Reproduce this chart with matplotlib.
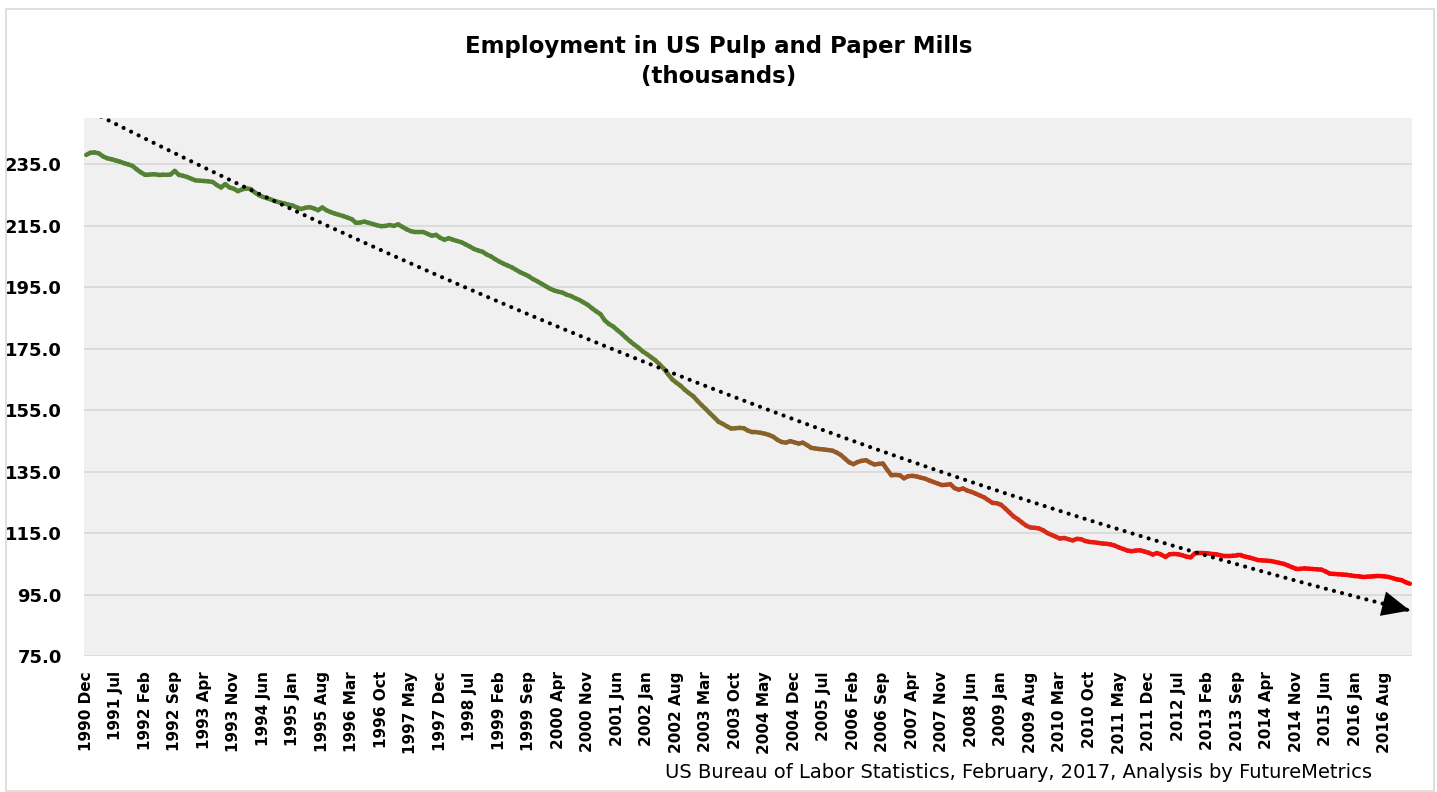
import numpy as np
import pandas as pd
import matplotlib
matplotlib.use('Agg')
import matplotlib.pyplot as plt
from matplotlib.collections import LineCollection
from matplotlib.colors import LinearSegmentedColormap
from matplotlib.patches import Rectangle

# monthly employment, thousands, starting 1990 Dec
jobs = [
    238.0, 238.7, 238.8, 238.5, 237.5, 236.9, 236.6, 236.2, 235.8, 235.3, 234.9, 234.4,
    233.3, 232.3, 231.5, 231.6, 231.7, 231.6, 231.6, 231.5, 231.6, 232.8, 231.5, 231.2,
    230.8, 230.2, 229.7, 229.6, 229.5, 229.4, 229.2, 228.2, 227.4, 228.5, 227.4, 227.0,
    226.2, 226.8, 227.1, 226.9, 225.8, 224.9, 224.3, 223.9, 223.4, 222.9, 222.5, 222.2,
    221.8, 221.5, 220.9, 220.4, 220.8, 221.0, 220.6, 220.0, 220.9, 220.0, 219.4, 218.9,
    218.5, 218.1, 217.6, 217.1, 215.9, 216.0, 216.3, 215.9, 215.5, 215.1, 214.8, 214.9,
    215.2, 214.9, 215.4, 214.6, 213.8, 213.2, 212.9, 212.9, 212.9, 212.3, 211.7, 212.0,
    211.0, 210.4, 210.9, 210.4, 210.0, 209.6, 208.9, 208.2, 207.4, 206.9, 206.5, 205.6,
    205.0, 204.1, 203.3, 202.6, 202.0, 201.4, 200.6, 199.8, 199.2, 198.5, 197.6, 196.9,
    196.1, 195.3, 194.5, 193.9, 193.5, 193.2, 192.5, 192.1, 191.4, 190.8, 190.0, 189.2,
    188.1, 187.1, 186.2, 184.2, 183.0, 182.2, 181.0, 179.9, 178.6, 177.4, 176.3, 175.3,
    174.1, 173.2, 172.2, 171.2, 169.9, 168.5, 166.7, 165.0, 163.9, 162.9, 161.6, 160.5,
    159.5, 158.0, 156.6, 155.3, 153.9, 152.6, 151.2, 150.5, 149.7, 149.0, 149.1, 149.2,
    149.1, 148.3, 147.8, 147.8, 147.6, 147.3, 146.9, 146.3, 145.3, 144.6, 144.4, 144.9,
    144.5, 144.1, 144.4, 143.6, 142.7, 142.5, 142.3, 142.2, 142.0, 141.8, 141.2, 140.4,
    139.2, 138.0, 137.4, 138.1, 138.5, 138.7, 137.9, 137.3, 137.5, 137.6, 135.6, 133.8,
    133.9, 133.8, 132.8, 133.5, 133.6, 133.4, 133.0, 132.7, 132.1, 131.6, 131.1, 130.6,
    130.7, 130.9, 129.6, 129.1, 129.5, 128.8, 128.4, 127.8, 127.2, 126.6, 125.7, 124.8,
    124.7, 124.2, 123.0, 121.7, 120.4, 119.5, 118.4, 117.4, 116.8, 116.7, 116.5, 115.9,
    115.0, 114.4, 113.8, 113.2, 113.4, 113.0, 112.6, 113.1, 113.0, 112.4, 112.1, 112.0,
    111.8, 111.6, 111.5, 111.3, 110.9, 110.3, 109.8, 109.3, 109.1, 109.3, 109.4, 109.0,
    108.6, 108.0, 108.5, 108.0, 107.2, 108.1, 108.2, 108.1, 107.8, 107.3, 107.1, 108.4,
    108.5, 108.5, 108.4, 108.2, 108.1, 107.8, 107.5, 107.5, 107.6, 107.7, 107.7, 107.3,
    107.0, 106.6, 106.2, 106.1, 106.0, 105.9, 105.6, 105.3, 105.0, 104.5, 103.9, 103.4,
    103.4, 103.5, 103.4, 103.3, 103.2, 103.1, 102.5, 101.8, 101.7, 101.6, 101.5, 101.4,
    101.2, 101.0, 100.9, 100.7, 100.8, 100.9, 101.0, 101.0, 100.9, 100.7, 100.3, 99.9,
    99.7, 99.0, 98.5,
]

months = pd.date_range('1990-12-01', periods=len(jobs), freq='MS')
month_labels = [d.strftime('%Y %b') for d in months]
y_ticks = [75, 95, 115, 135, 155, 175, 195, 215, 235]

n = len(jobs)
x = np.arange(n)
y = np.array(jobs)

fig = plt.figure(figsize=(14.37, 7.92), dpi=100)
ax = fig.add_axes([0.0585, 0.1717, 0.9241, 0.6793])
ax.set_facecolor('#F0F0F0')

# green -> brown -> red along the series
cmap = LinearSegmentedColormap.from_list('jobs', [
    (0.00, '#548235'), (0.40, '#548235'), (0.46, '#75702e'),
    (0.52, '#886228'), (0.60, '#985727'), (0.66, '#b04820'),
    (0.71, '#d2301a'), (0.78, '#ee1410'), (1.00, '#ff0000')])
pts = np.column_stack([x, y]).reshape(-1, 1, 2)
segs = np.concatenate([pts[:-1], pts[1:]], axis=1)
lc = LineCollection(segs, colors=cmap(x[:-1] / (n - 1)), linewidths=3.2,
                    capstyle='round', joinstyle='round', zorder=3)
ax.add_collection(lc)

# 2nd order polynomial trend with arrow at the end
coef = np.polyfit(x, y, 2)
trend = np.polyval(coef, x)
ax.plot(x, trend, color='black', lw=3, linestyle=(0, (0.01, 2.0)),
        dash_capstyle='round', zorder=4)
ax.annotate('', xy=(x[-1], trend[-1]), xytext=(x[-6], trend[-6]),
            arrowprops=dict(arrowstyle='-|>,head_length=1.0,head_width=0.45',
                            color='black', lw=0, mutation_scale=20,
                            shrinkA=0, shrinkB=0), zorder=5)

ax.set_xlim(-0.5, n - 0.5)
ax.set_ylim(75, 250)
ax.set_yticks(y_ticks)
ax.set_yticklabels([f'{v:.1f}' for v in y_ticks], fontsize=13, fontweight='bold')
tick_pos = x[:n - 6:7]
ax.set_xticks(tick_pos)
ax.set_xticklabels([month_labels[i] for i in tick_pos], rotation=90,
                   fontsize=11, fontweight='bold')
ax.tick_params(axis='y', length=0, pad=16)
ax.tick_params(axis='x', length=0, pad=11)
ax.grid(axis='y', color='#D9D9D9', lw=1.3)
ax.set_axisbelow(True)
for s in ax.spines.values():
    s.set_visible(False)

fig.text(0.5, 0.9223, 'Employment in US Pulp and Paper Mills\n(thousands)',
         ha='center', va='center', fontsize=16.5, fontweight='bold', linespacing=1.4)
fig.text(0.955, 0.024, 'US Bureau of Labor Statistics, February, 2017, Analysis by FutureMetrics',
         ha='right', va='center', fontsize=14)

fig.patches.append(Rectangle((6 / 1437, 0.001), 1428 / 1437, 1 - 9 / 792 - 0.001,
                             transform=fig.transFigure, fill=False,
                             edgecolor='#D9D9D9', lw=1.2))

fig.savefig('out.png', dpi=100)
